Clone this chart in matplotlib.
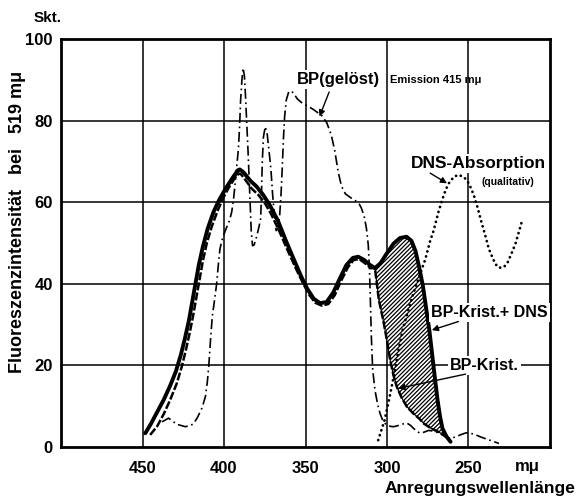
"""Fluoreszenz-Anregungsspektren: BP geloest, BP-Krist., BP-Krist. + DNS, DNS-Absorption."""

import matplotlib

matplotlib.use("Agg")
import matplotlib.pyplot as plt

# BP-Krist. + DNS (dicke Linie)
bp_dns_x = [448.3, 445, 441, 437, 433, 429.5, 426.5, 424, 421.5, 419.5, 417.5, 415.5, 413, 410,
            406.5, 403, 399, 395, 391.5, 390.3, 388, 384, 380, 376, 372, 367, 362, 357, 352.7,
            349, 345, 341, 337, 333, 329, 325, 321, 317.7, 314, 310.5, 307.4, 304, 300, 296,
            292, 288, 285, 282.5, 280, 278, 276, 274, 272.4, 270.5, 269, 267.5, 266, 263.5, 261]
bp_dns_y = [3.3, 5.5, 8.5, 11.5, 15, 18.5, 22.5, 26.5, 31, 35.5, 40, 44.5, 49, 53.5,
            57.5, 60.5, 63.3, 65.8, 67.8, 68, 67.3, 65.3, 63.8, 61.8, 59.3, 55.5, 50.5, 45.8, 41.8,
            38.8, 36.3, 35.2, 35.5, 37.8, 41.2, 44.5, 46.3, 46.6, 45.8, 44.6, 43.8, 45, 47.5, 49.8,
            51.2, 51.5, 50.5, 48, 43.5, 39.5, 34, 28.5, 23, 16.5, 11.5, 7.5, 4.5, 2.5, 1.2]

# BP-Krist. (gestrichelt)
bp_krist_x = [445.3, 441, 437, 433, 429, 426, 423.5, 421, 419, 417, 415, 413, 410.5, 407.5, 404,
              400.5, 397, 393.5, 391, 389.5, 387, 383, 379, 375, 371, 366, 361, 356, 352, 348, 344,
              340, 336, 332, 328, 324, 320.5, 317, 313.5, 310, 307.4, 305, 302.3, 300, 298.1,
              296, 294, 291, 287.8, 284, 280, 277.5, 273, 267.3, 263]
bp_krist_y = [2.9, 5, 8, 11.5, 15.5, 19.5, 23.5, 28, 32, 36.5, 41, 45.5, 50, 54, 57.8,
              61, 63.6, 65.8, 67, 66.8, 65.5, 63.3, 61.8, 59.8, 57, 52.8, 48.2, 43.8, 40.5, 37.4, 35.3,
              34.6, 35, 37.2, 40.8, 44, 45.8, 46, 45, 43.8, 43.8, 36, 31, 26, 21.3,
              17.5, 14.7, 12, 9.8, 8.2, 6.8, 5.7, 4.5, 3.4, 2.2]

# BP (geloest), Emission 415 mu (strichpunktiert)
bp_geloest_x = [438, 434, 429, 423.6, 419, 416.5, 413.5, 411.4, 410.2, 409.3, 408.3, 407.2,
                405.8, 404.5, 403.5, 402.5, 400.8, 398.9, 396.8, 395.3, 394.2, 393.3, 392.4,
                391.2, 390.5, 389.8, 389, 388.3, 387.5, 386.8, 386, 385.2, 384.2, 383.3, 382.5,
                381.5, 380, 378.5, 377.5, 377, 376.5, 375.8, 374.7, 373.6, 372.5, 371.2, 370.2,
                369, 368, 366.8, 365.8, 365, 364.3, 363.6, 362.8, 361.8, 360.5, 358.8, 357,
                355, 352.7, 349, 345.5, 342, 340.3, 337, 334.2, 332, 330, 328, 325.5, 322,
                319.8, 317, 315.7, 314, 312.6, 311.5, 310.8, 310.2, 309.6, 308.8, 307.4, 305.8,
                304.3, 302.5, 300.5, 298, 296, 293, 290, 287.8, 285.5, 283.7, 281.5, 279.6,
                277, 274.5, 271, 267.3, 264, 261, 258, 255, 251.5, 248.8, 245.5, 242.6, 237,
                231.3]
bp_geloest_y = [6.1, 7, 5.5, 4.9, 5.5, 7, 9.5, 12.3, 16, 20, 26, 31.9,
                36, 40, 44.5, 48.5, 51.3, 53.3, 55.3, 57.5, 60.5, 64, 68,
                72.8, 78, 85, 90, 92.9, 91, 86, 79, 72, 62, 53, 49.3,
                49.5, 51.5, 54, 56, 62, 70, 76, 78.5, 77, 73, 68, 62,
                56.5, 53, 53.5, 57, 62, 68, 75, 81, 85, 86.8, 87.3, 86.5,
                85.3, 84.5, 83.6, 82.8, 81.8, 81.4, 79.5, 76.5, 72.5, 67.5, 64, 62, 61,
                60.5, 59.5, 58.5, 56.5, 53.5, 49.5, 44, 36, 27, 19, 13.9, 10.5,
                8.2, 6.3, 5.4, 5, 4.9, 5.2, 5.6, 5.8, 5.2, 4.5, 3.7, 3.3,
                3.6, 4, 3.8, 3.2, 2.4, 2, 2.4, 2.9, 3.4, 3.3, 2.9, 2.4, 1.6,
                0.8]

# DNS-Absorption (qualitativ, punktiert)
dns_x = [305.4, 301.5, 298.5, 296, 293.5, 290.5, 287, 283.5, 280, 276.5, 273.5, 271.4, 268.5,
         266.2, 264, 262.1, 259, 256, 252.5, 249.8, 247, 244.6, 242, 239.5, 237.5, 235.5,
         233.5, 231.3, 228.5, 226.2, 223.5, 221.1, 217]
dns_y = [1.6, 6.5, 12, 17, 22.5, 28.5, 33.5, 38, 42, 46, 50.5, 53, 57.5,
         60.5, 63, 64.6, 66.2, 66.7, 66, 64.6, 62, 58.9, 55, 51.5, 48.5, 46.6,
         44.8, 43.9, 44, 45, 47.5, 49.9, 55.6]

x_ticks = [450, 400, 350, 300, 250]
y_ticks = [0, 20, 40, 60, 80, 100]

FONT = "Liberation Sans"

fig = plt.figure(figsize=(5.76, 4.97), dpi=100)
ax = fig.add_axes([61 / 576, 1 - 446.7 / 497, 489 / 576, 407.7 / 497])

ax.set_xlim(500, 200)
ax.set_ylim(0, 100)

# Gitter
for xv in x_ticks:
    ax.axvline(xv, color="black", lw=1.1, zorder=1)
for yv in y_ticks[1:-1]:
    ax.axhline(yv, color="black", lw=1.1, zorder=1)

# schraffierte Flaeche zwischen BP-Krist. + DNS und BP-Krist.
i0 = bp_dns_x.index(307.4)
j0 = bp_krist_x.index(307.4)
poly_x = bp_dns_x[i0:] + bp_krist_x[j0:][::-1]
poly_y = bp_dns_y[i0:] + bp_krist_y[j0:][::-1]
plt.rcParams["hatch.linewidth"] = 0.9
ax.fill(poly_x, poly_y, facecolor="white", edgecolor="black", hatch="////////", lw=0.8, zorder=2)

ax.plot(bp_geloest_x, bp_geloest_y, color="black", lw=1.2, ls=(0, (6, 2.2, 1, 2.2)), zorder=3)
ax.plot(dns_x, dns_y, color="black", lw=2.0, ls=(0, (0.05, 1.8)), dash_capstyle="round", zorder=3)
ax.plot(bp_krist_x, bp_krist_y, color="black", lw=1.8, ls=(0, (3.2, 0.9)), zorder=4)
ax.plot(bp_dns_x, bp_dns_y, color="black", lw=2.8, solid_capstyle="round", zorder=5)

for s in ax.spines.values():
    s.set_linewidth(2)

ax.set_xticks(x_ticks)
ax.set_yticks(y_ticks)
ax.set_xticklabels([str(v) for v in x_ticks], fontfamily=FONT, fontweight="bold", fontsize=12)
ax.set_yticklabels([str(v) for v in y_ticks], fontfamily=FONT, fontweight="bold", fontsize=12)
ax.tick_params(axis="y", length=0, pad=6)
ax.tick_params(axis="x", length=0, pad=10)

txt = dict(fontfamily=FONT, fontweight="bold", color="black")
box = dict(facecolor="white", edgecolor="none", pad=1.5)
arrow = dict(arrowstyle="-|>", color="black", lw=1.0, mutation_scale=9, shrinkA=0, shrinkB=0)

ax.text(329.6, 90, "BP(gelöst)", ha="center", va="center", fontsize=12, bbox=box, zorder=6, **txt)
ax.annotate("", xy=(341.4, 81), xytext=(335.5, 87), arrowprops=arrow, zorder=6)
ax.text(270, 90, "Emission 415 m\u03bc", ha="center", va="center", fontsize=8, zorder=6, **txt)

ax.text(243.8, 69.4, "DNS-Absorption", ha="center", va="center", fontsize=12.5, bbox=box, zorder=6, **txt)
ax.text(226, 65, "(qualitativ)", ha="center", va="center", fontsize=7.5, zorder=6, **txt)
ax.annotate("", xy=(263.2, 64.6), xytext=(273.5, 67.1), arrowprops=arrow, zorder=6)

ax.text(237, 33, "BP-Krist.+ DNS", ha="center", va="center", fontsize=11.5, bbox=box, zorder=6, **txt)
ax.annotate("", xy=(272.5, 28.6), xytext=(256.2, 30.7), arrowprops=arrow, zorder=6)

ax.text(240, 20, "BP-Krist.", ha="center", va="center", fontsize=11.5, bbox=box, zorder=6, **txt)
ax.annotate("", xy=(293, 14.3), xytext=(251.8, 17.8), arrowprops=arrow, zorder=6)

fig.text(48 / 576, 1 - 18 / 497, "Skt.", ha="center", va="center", fontsize=11, **txt)
fig.text(527 / 576, 1 - 467 / 497, "m\u03bc", ha="center", va="center", fontsize=12, **txt)
fig.text(480 / 576, 1 - 488 / 497, "Anregungswellenlänge", ha="center", va="center", fontsize=12.5, **txt)
fig.text(18 / 576, 1 - 222 / 497, "Fluoreszenzintensität   bei   519 m\u03bc", rotation=90,
         ha="center", va="center", fontsize=13, **txt)

fig.savefig("out.png", dpi=100, facecolor="white")
